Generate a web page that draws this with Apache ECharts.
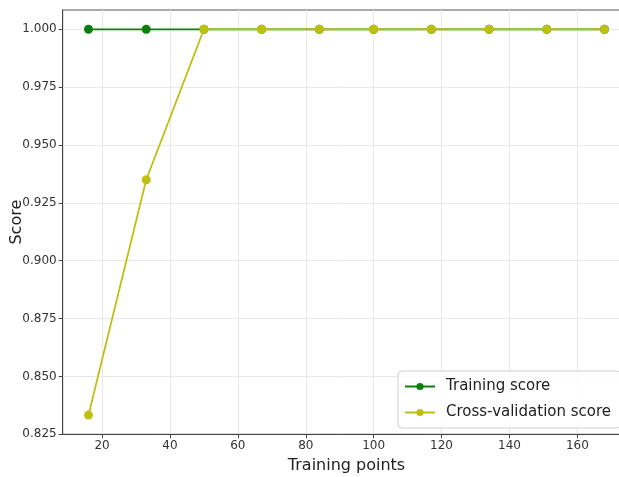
<!DOCTYPE html>
<html><head><meta charset="utf-8">
<script src="https://cdn.jsdelivr.net/npm/echarts@6/dist/echarts.min.js"></script>
<style>html,body{margin:0;padding:0;background:#fff}#c{width:619px;height:477px}</style>
</head><body><div id="c"></div>
<script>
const trainSizes = [16, 33, 50, 67, 84, 100, 117, 134, 151, 168];
const trainingScore = [1.0, 1.0, 1.0, 1.0, 1.0, 1.0, 1.0, 1.0, 1.0, 1.0];
const cvScore = [0.8333, 0.935, 1.0, 1.0, 1.0, 1.0, 1.0, 1.0, 1.0, 1.0];
const xTicks = [20, 40, 60, 80, 100, 120, 140, 160];
const yTicks = [0.825, 0.85, 0.875, 0.9, 0.925, 0.95, 0.975, 1.0];

const chart = echarts.init(document.getElementById('c'));
const font = 'DejaVu Sans';
chart.setOption({
  animation: false,
  backgroundColor: '#fff',
  textStyle: {fontFamily: font},
  grid: {left: 62.7, top: 10, bottom: 42.7, right: -11.3, outerBoundsMode: 'none', containLabel: false,
         show: true, borderColor: '#555', borderWidth: 1, backgroundColor: 'transparent'},
  xAxis: {
    type: 'value', min: 8.4, max: 175.6,
    name: 'Training points', nameLocation: 'middle', nameGap: 24, nameMoveOverlap: false,
    nameTextStyle: {fontSize: 16, color: '#222', fontFamily: font},
    axisLine: {show: true, lineStyle: {color: '#444', width: 1}},
    axisTick: {show: true, length: 4, lineStyle: {color: '#444'}, customValues: xTicks},
    axisLabel: {fontSize: 12, color: '#333', margin: 6, customValues: xTicks, formatter: v => String(v)},
    splitLine: {show: true, lineStyle: {color: '#e8e8e8', width: 1}}
  },
  yAxis: {
    type: 'value', min: 0.825, max: 1.00833,
    name: 'Score', nameLocation: 'middle', nameGap: 38, nameMoveOverlap: false,
    nameTextStyle: {fontSize: 16, color: '#222', fontFamily: font},
    axisLine: {show: true, lineStyle: {color: '#444', width: 1}},
    axisTick: {show: true, length: 4, lineStyle: {color: '#444'}, customValues: yTicks},
    axisLabel: {fontSize: 12, color: '#333', margin: 6, customValues: yTicks, formatter: v => v.toFixed(3)},
    splitLine: {show: true, lineStyle: {color: '#e8e8e8', width: 1}}
  },
  legend: {
    left: 398, top: 371, orient: 'vertical',
    itemWidth: 30, itemHeight: 9, itemGap: 11,
    padding: [8, 10, 8, 6],
    borderColor: '#d0d0d0', borderWidth: 1, borderRadius: 4,
    backgroundColor: 'rgba(255,255,255,0.85)',
    textStyle: {fontSize: 15, color: '#222', fontFamily: font, padding: [0, 0, 0, 6]},
    data: ['Training score', 'Cross-validation score']
  },
  series: [
    {name: 'Training score', type: 'line', data: trainSizes.map((x, i) => [x, trainingScore[i]]),
     color: '#0a800a', symbol: 'circle', symbolSize: 9, lineStyle: {width: 1.8}, z: 2},
    {name: 'Cross-validation score', type: 'line', data: trainSizes.map((x, i) => [x, cvScore[i]]),
     color: '#bfbf10', symbol: 'circle', symbolSize: 9, lineStyle: {width: 1.8}, z: 3}
  ]
});
</script></body></html>
